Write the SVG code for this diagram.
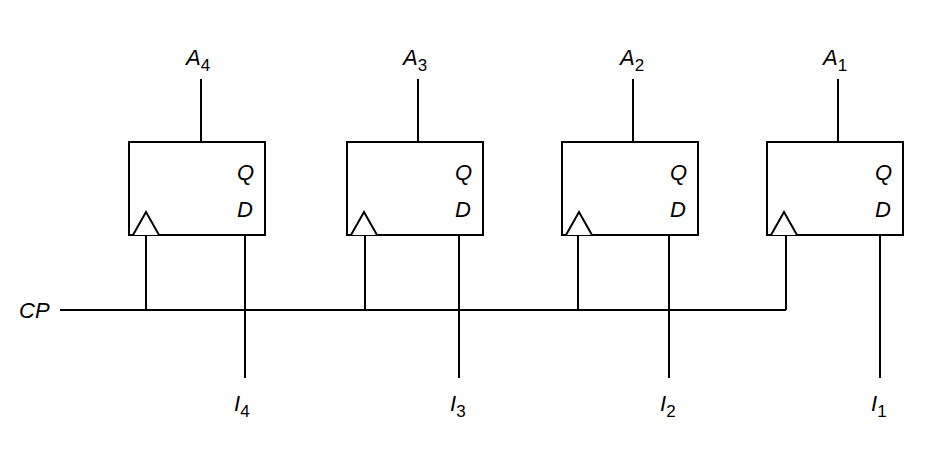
<svg xmlns="http://www.w3.org/2000/svg" width="950" height="470" viewBox="0 0 950 470">
<style>
.b{fill:#fff;stroke:#000;stroke-width:2}
.w{stroke:#000;stroke-width:2;fill:none}
text{font-family:"Liberation Sans",Arial,sans-serif;font-style:italic;font-size:22px;fill:#000}
.s{font-size:17px;font-style:normal}
</style>
<rect width="950" height="470" fill="#fff"/>
<defs>
<g id="ff">
<rect class="b" x="0" y="0" width="136" height="93"/>
<path class="b" d="M4 93 L17 70 L30 93"/>
<text x="108" y="38">Q</text>
<text x="108" y="75">D</text>
</g>
</defs>
<g id="connectors" class="w">
<path d="M60 310 H786"/>
<path d="M201 79 V142 M146 234 V310 M245 234 V378"/>
<path d="M418 79 V142 M365 234 V310 M459 234 V378"/>
<path d="M633 79 V142 M578 234 V310 M669 234 V378"/>
<path d="M838 79 V142 M786 234 V310 M880 234 V378"/>
</g>
<g id="ff4"><use href="#ff" x="129" y="142"/></g>
<g id="ff3"><use href="#ff" x="347" y="142"/></g>
<g id="ff2"><use href="#ff" x="562" y="142"/></g>
<g id="ff1"><use href="#ff" x="767" y="142"/></g>
<g id="labels">
<text x="19" y="318">CP</text>
<text x="186" y="65">A<tspan class="s" dy="6">4</tspan></text>
<text x="403" y="65">A<tspan class="s" dy="6">3</tspan></text>
<text x="620" y="65">A<tspan class="s" dy="6">2</tspan></text>
<text x="823" y="65">A<tspan class="s" dy="6">1</tspan></text>
<text x="234" y="411">I<tspan class="s" dy="6">4</tspan></text>
<text x="450" y="411">I<tspan class="s" dy="6">3</tspan></text>
<text x="660" y="411">I<tspan class="s" dy="6">2</tspan></text>
<text x="871" y="411">I<tspan class="s" dy="6">1</tspan></text>
</g>
</svg>
